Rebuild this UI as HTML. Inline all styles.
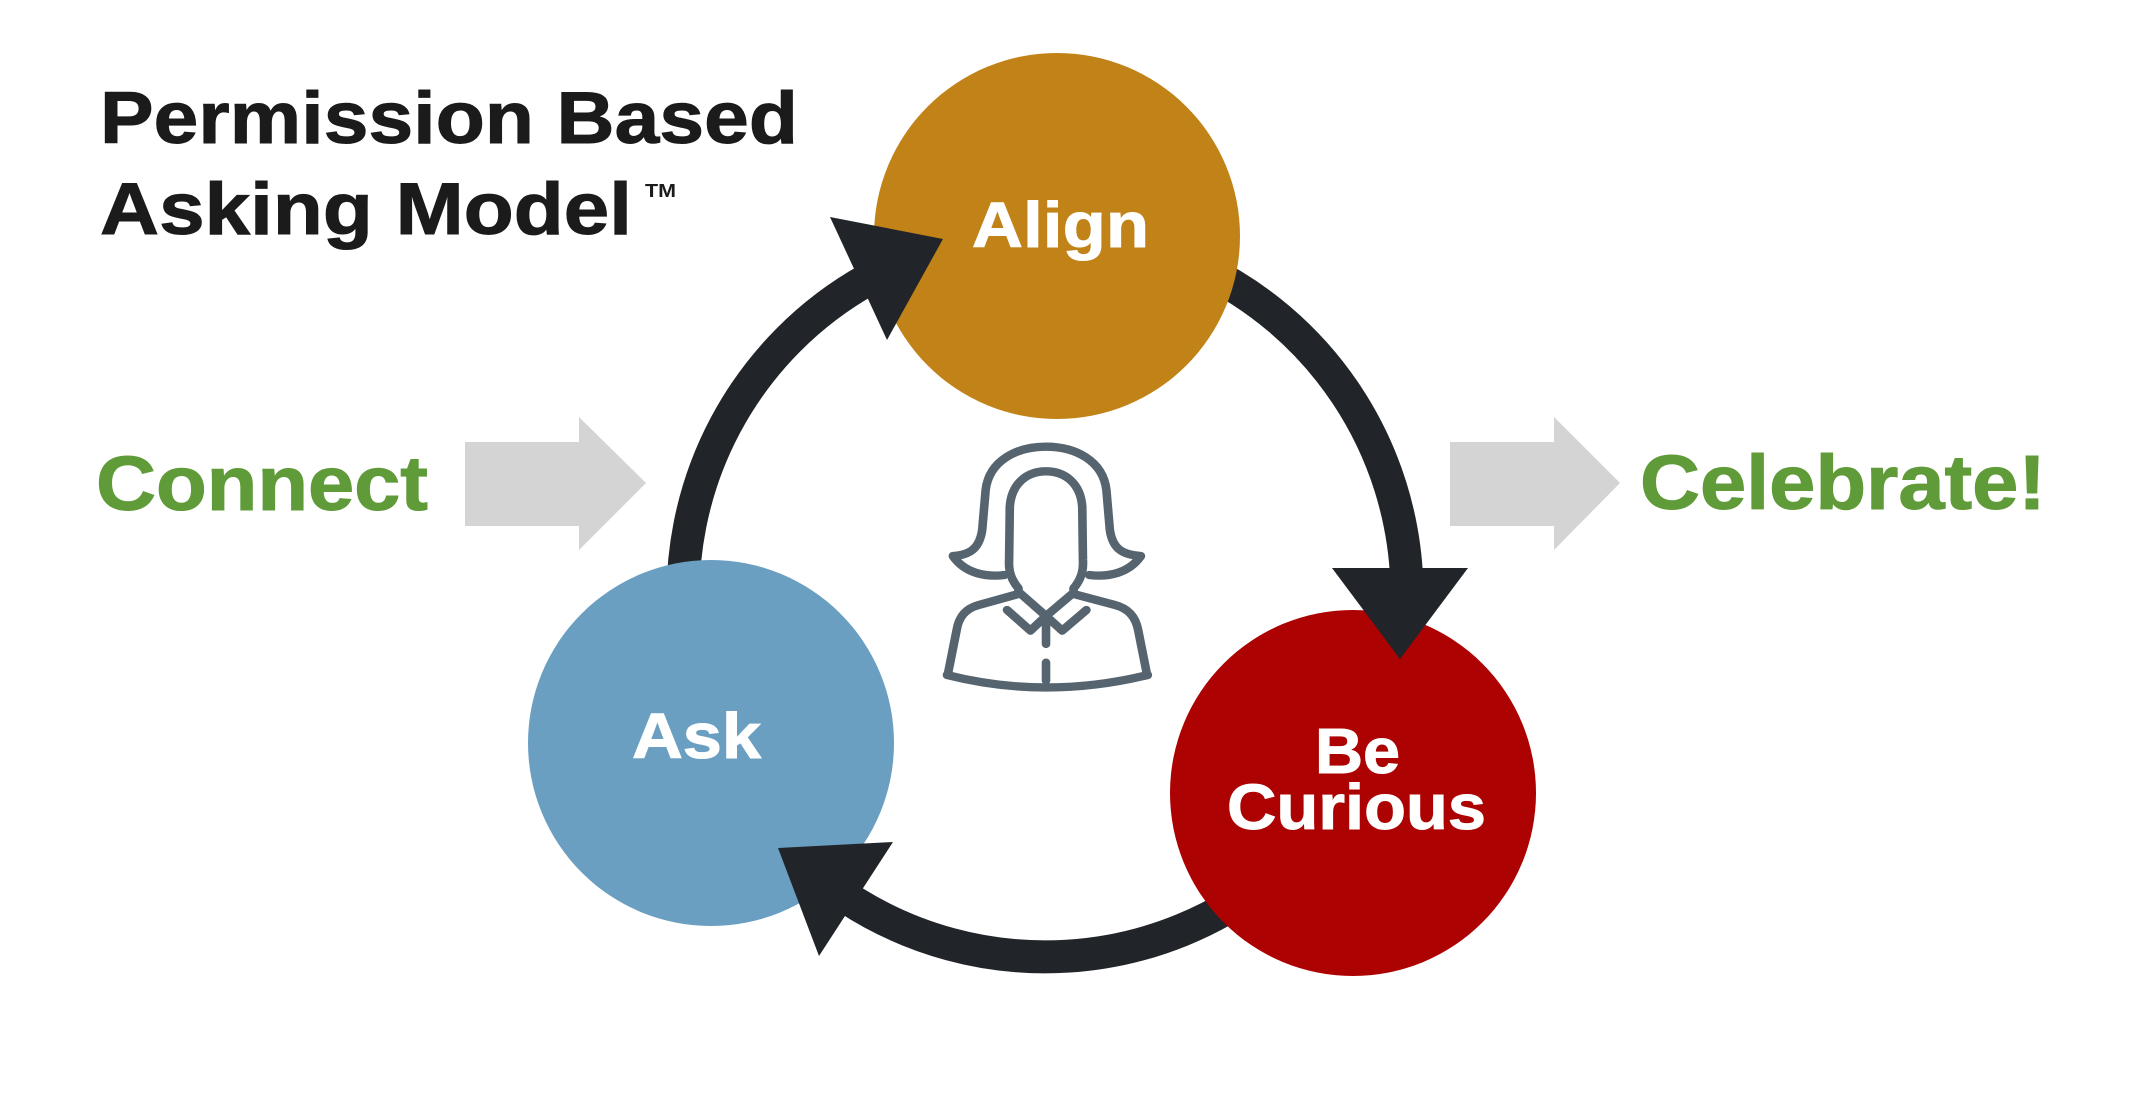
<!DOCTYPE html>
<html>
<head>
<meta charset="utf-8">
<style>
  html, body { margin: 0; padding: 0; background: #ffffff; }
  body { width: 2133px; height: 1107px; overflow: hidden; }
  svg { display: block; }
  text { font-family: "Liberation Sans", "DejaVu Sans", sans-serif; font-weight: bold; }
</style>
</head>
<body>
<svg width="2133" height="1107" viewBox="0 0 2133 1107" xmlns="http://www.w3.org/2000/svg">
  <rect x="0" y="0" width="2133" height="1107" fill="#ffffff"/>

  <!-- Title -->
  <g fill="#1b1b1b" stroke="#1b1b1b" stroke-width="1">
    <text transform="translate(100,143) scale(1.10,1)" x="0" y="0" font-size="73" textLength="634.5" lengthAdjust="spacing">Permission Based</text>
    <text transform="translate(100,234) scale(1.12,1)" x="0" y="0" font-size="73" textLength="475" lengthAdjust="spacing">Asking Model</text>
  </g>
  <text x="645" y="197" font-size="18" fill="#1b1b1b" textLength="31" lengthAdjust="spacingAndGlyphs">TM</text>

  <!-- Connect / Celebrate -->
  <g fill="#609b39" stroke="#609b39" stroke-width="1">
    <text transform="translate(96,510) scale(1.08,1)" x="0" y="0" font-size="77" textLength="307.4" lengthAdjust="spacing">Connect</text>
    <text transform="translate(1640,509) scale(1.08,1)" x="0" y="0" font-size="77" textLength="375.9" lengthAdjust="spacing">Celebrate!</text>
  </g>

  <!-- Gray block arrows -->
  <polygon points="465,442 579,442 579,417 646,483 579,550 579,526 465,526" fill="#d4d4d4"/>
  <polygon points="1450,442 1554,442 1554,417 1620,483 1554,550 1554,526 1450,526" fill="#d4d4d4"/>

  <!-- Cycle arcs (center 1045,595, r 362) -->
  <g fill="none" stroke="#212529" stroke-width="33">
    <path d="M 684.4 626.6 A 362 362 0 0 1 869.6 278.6"/>
    <path d="M 1198 266.9 A 362 362 0 0 1 1406.8 582.4"/>
    <path d="M 1277.7 872.3 A 362 362 0 0 1 848.0 898.5"/>
  </g>

  <!-- Circles -->
  <circle cx="1057" cy="236" r="183" fill="#c18318"/>
  <circle cx="711" cy="743" r="183" fill="#6a9fc2"/>
  <circle cx="1353" cy="793" r="183" fill="#ac0202"/>

  <!-- Arrowheads -->
  <polygon points="830,217 943,239 887,340" fill="#212529"/>
  <polygon points="1332,568 1468,568 1400,659" fill="#212529"/>
  <polygon points="893,842 819,956 778,848" fill="#212529"/>

  <!-- Circle labels -->
  <g fill="#ffffff" stroke="#ffffff" stroke-width="1">
    <text transform="translate(972,247) scale(1.10,1)" x="0" y="0" font-size="64" textLength="160.9" lengthAdjust="spacing">Align</text>
    <text transform="translate(632,758) scale(1.10,1)" x="0" y="0" font-size="64" textLength="117.3" lengthAdjust="spacing">Ask</text>
    <text transform="translate(1315,773) scale(1.04,1)" x="0" y="0" font-size="64" textLength="81.7" lengthAdjust="spacing">Be</text>
    <text transform="translate(1227,829) scale(1.07,1)" x="0" y="0" font-size="64" textLength="242" lengthAdjust="spacing">Curious</text>
  </g>

  <!-- Person icon -->
  <g transform="translate(927,440) scale(0.345,0.3333)" fill="none" stroke="#56646f" stroke-width="25" stroke-linecap="round" stroke-linejoin="round">
    <!-- outer hair -->
    <path d="M 225 405 C 170 412 110 400 75 348 C 125 345 152 325 160 270 L 170 150 C 180 62 260 20 345 20 C 430 20 510 62 520 150 L 530 270 C 538 325 565 345 620 348 C 585 400 525 412 470 405"/>
    <!-- face -->
    <path d="M 265 445 C 245 420 236 395 238 360 L 240 200 C 245 130 290 94 345 94 C 400 94 445 130 450 200 L 452 360 C 454 395 445 420 425 445"/>
    <!-- neck stubs -->
    <path d="M 265 445 L 265 462"/>
    <path d="M 425 445 L 425 462"/>
    <!-- body -->
    <path d="M 265 462 L 150 495 C 110 506 92 532 86 570 L 60 705"/>
    <path d="M 425 462 L 545 495 C 585 506 605 532 612 570 L 638 705"/>
    <path d="M 58 705 Q 345 780 640 705"/>
    <!-- collar -->
    <path d="M 232 510 L 300 572 L 345 528 L 392 572 L 462 510"/>
    <path d="M 268 458 L 345 528 L 425 458"/>
    <!-- buttons line -->
    <path d="M 345 548 L 345 612"/>
    <path d="M 345 668 L 345 722"/>
  </g>
</svg>
</body>
</html>
